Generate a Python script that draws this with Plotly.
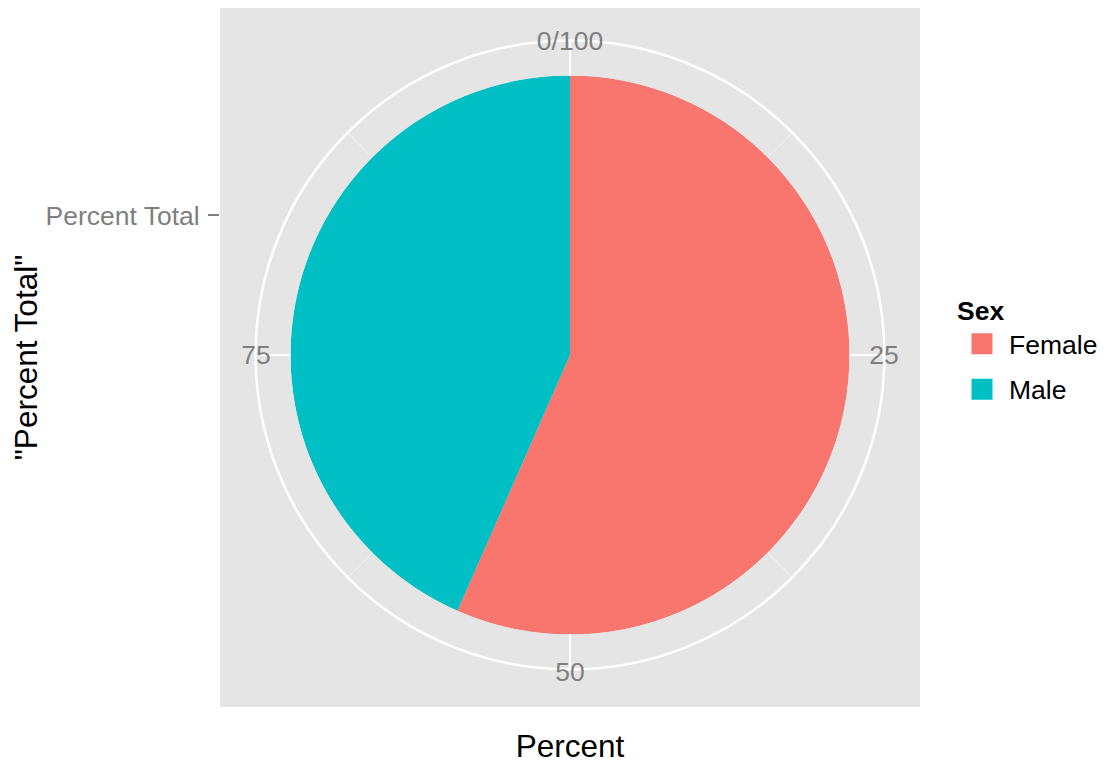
import plotly.graph_objects as go

# ---- data ----
sex = ["Female", "Male"]
percent = [56.6, 43.4]
colors = ["#F8766D", "#00BFC4"]
y_category = "Percent Total"
theta_breaks = [0, 25, 50, 75]
theta_labels = ["0/100", "25", "50", "75"]
minor_breaks = [12.5, 37.5, 62.5, 87.5]

FONT = "Liberation Sans, Arial, sans-serif"
# page body adds an 8px margin, so the figure is 8px smaller than the window
W, H = 1097, 760
ML, MR, MT, MB = 212, 185, 0, 61
PW, PH = W - ML - MR, H - MT - MB
CX, CY = 562, 347          # pie centre (figure pixels)
R_PIE = 279.5              # pie radius
R_OUT = R_PIE * 0.45 / 0.4  # outer grid ring
TICK_FS, TITLE_FS = 26.5, 31.5

def dom(r):
    x0 = (CX - r - ML) / PW
    x1 = (CX + r - ML) / PW
    yc = (H - MB - CY) / PH
    return dict(x=[x0, x1], y=[yc - r / PH, yc + r / PH])

deg = 360 / 100.0
starts = [sum(percent[:i]) for i in range(len(percent))]

fig = go.Figure()

# helper traces so each polar layer is drawn
for pid in ["polar", "polar2"]:
    fig.add_trace(go.Scatterpolar(r=[0], theta=[0], mode="markers",
                                  marker=dict(opacity=0), showlegend=False,
                                  hoverinfo="skip", subplot=pid))

# pie wedges
for name, p, s, c in zip(sex, percent, starts, colors):
    fig.add_trace(go.Barpolar(
        r=[1], theta=[(s + p / 2) * deg], width=[p * deg], base=0,
        marker=dict(color=c, line=dict(width=0)), name=name,
        showlegend=False, subplot="polar3"))

# legend proxies on the cartesian panel
for i, (name, c) in enumerate(zip(sex, colors)):
    fig.add_trace(go.Scatter(
        x=[None], y=[None], mode="markers", name=name,
        marker=dict(symbol="square", size=16, color=c, line=dict(color=c, width=5)),
        legendgroup=name, hoverinfo="skip"))

ang_common = dict(rotation=90, direction="clockwise", thetaunit="degrees")
rad_hidden = dict(visible=False, range=[0, 1])

fig.update_layout(
    width=W, height=H,
    margin=dict(l=ML, r=MR, t=MT, b=MB),
    paper_bgcolor="white", plot_bgcolor="#E5E5E5",
    font=dict(family=FONT, size=TICK_FS, color="black"),
    xaxis=dict(range=[0, 1], showticklabels=False, ticks="", showgrid=False,
               zeroline=False, showline=False, fixedrange=True,
               title=dict(text="Percent", font=dict(size=TITLE_FS, color="black"), standoff=27)),
    yaxis=dict(range=[0.5 - (H - MB - CY) / R_PIE, 0.5 + (CY - MT) / R_PIE],
               tickvals=[1], ticktext=[y_category], ticks="outside", ticklen=11,
               tickwidth=1.5, tickcolor="#7F7F7F", ticklabelstandoff=3,
               tickfont=dict(size=TICK_FS, color="#7F7F7F"),
               showgrid=False, zeroline=False, showline=False, fixedrange=True,
               title=dict(text='"Percent Total"', font=dict(size=TITLE_FS, color="black"), standoff=0)),
    polar=dict(domain=dom(R_OUT), bgcolor="rgba(0,0,0,0)", radialaxis=rad_hidden,
               angularaxis=dict(**ang_common,
                                tickvals=[b * deg for b in minor_breaks],
                                showticklabels=False, ticks="", showline=False,
                                showgrid=True, gridcolor="#F4F4F4", gridwidth=1)),
    polar2=dict(domain=dom(R_OUT), bgcolor="rgba(0,0,0,0)", radialaxis=rad_hidden,
                angularaxis=dict(**ang_common,
                                 tickvals=[b * deg for b in theta_breaks],
                                 showticklabels=False, ticks="", showline=True,
                                 linecolor="white", linewidth=2.5,
                                 showgrid=True, gridcolor="white", gridwidth=2)),
    polar3=dict(domain=dom(R_PIE), bgcolor="rgba(0,0,0,0)", radialaxis=rad_hidden,
                angularaxis=dict(**ang_common,
                                 tickvals=[b * deg for b in theta_breaks],
                                 ticktext=theta_labels,
                                 tickfont=dict(size=TICK_FS, color="#7F7F7F"),
                                 ticks="outside", ticklen=14, tickcolor="rgba(0,0,0,0)",
                                 showline=False, showgrid=False)),
    legend=dict(x=1.05, y=0.603, xanchor="left", yanchor="top",
                font=dict(size=TICK_FS, color="black"), tracegroupgap=8,
                itemwidth=44,
                title=dict(text="<b>Sex</b>", font=dict(size=TICK_FS, color="black")),
                bgcolor="rgba(0,0,0,0)"),
    showlegend=True,
)

fig.write_html("out.html")
